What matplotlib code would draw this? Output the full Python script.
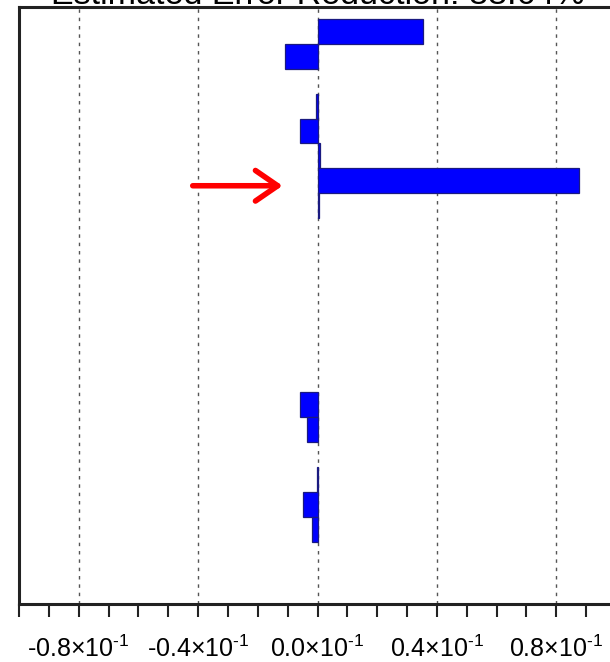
import numpy as np
import matplotlib.pyplot as plt

plt.rcParams['font.family'] = ['Liberation Sans', 'DejaVu Sans']
plt.rcParams['mathtext.fontset'] = 'custom'
plt.rcParams['mathtext.rm'] = 'Liberation Sans'

# values per row, top to bottom (23 rows, last ones empty)
rows = np.arange(23)
values = [0.0355, -0.0110, 0.0, -0.0004, -0.0057, 0.0008, 0.0877, 0.0005,
          0.0, 0.0, 0.0, 0.0, 0.0, 0.0, 0.0,
          -0.0059, -0.0036, 0.0, -0.0003, -0.0049, -0.0019, 0.0, 0.0]
major_ticks = [-0.08, -0.04, 0.0, 0.04, 0.08]
tick_labels = [r'$\text{-0.8}{\times}10^{\text{-1}}$', r'$\text{-0.4}{\times}10^{\text{-1}}$',
               r'$\text{0.0}{\times}10^{\text{-1}}$', r'$\text{0.4}{\times}10^{\text{-1}}$',
               r'$\text{0.8}{\times}10^{\text{-1}}$']
title = 'Estimated Error Reduction: 88.64%'
highlight_row = 6

fig = plt.figure(figsize=(6.10, 6.62), dpi=100)
W, H = 610, 662
ax = fig.add_axes([19 / W, 1 - 604 / H, (616 - 19) / W, (604 - 6.5) / H])

lw = [0.9 if v != 0 else 0 for v in values]
ax.barh(rows, values, height=1.0, color='#0000ff', edgecolor='#1a1a80', linewidth=lw, zorder=3)

ax.set_xlim(-0.1, 0.1)
ax.set_ylim(len(rows), -1)
ax.set_xticks(np.arange(-0.1, 0.1001, 0.01), minor=True)
ax.set_xticks(major_ticks)
ax.set_xticklabels(tick_labels, fontsize=18)
ax.set_yticks([])
ax.tick_params(axis='x', which='both', direction='out', length=9, width=1.5, pad=14, color='#222222')
ax.xaxis.grid(True, which='major', linestyle=(0, (2.5, 3.5)), color='#555555', linewidth=1.0, zorder=1)

for s in ax.spines.values():
    s.set_linewidth(2.2)
    s.set_color('#222222')

# title sits mostly above the visible area, as in the cropped original
fig.text((19 + 616) / 2 / W, 1 - 4 / H, title, fontsize=24.5, ha='center', va='baseline')

# red arrow pointing at the biggest bar
ax.annotate('', xy=(-0.0117, highlight_row + 0.2), xytext=(-0.0418, highlight_row + 0.2),
            arrowprops=dict(arrowstyle='->, head_length=0.8, head_width=0.55',
                            color='#ff0000', lw=4, mutation_scale=20,
                            shrinkA=0, shrinkB=0))

fig.savefig('out.png', dpi=100)
